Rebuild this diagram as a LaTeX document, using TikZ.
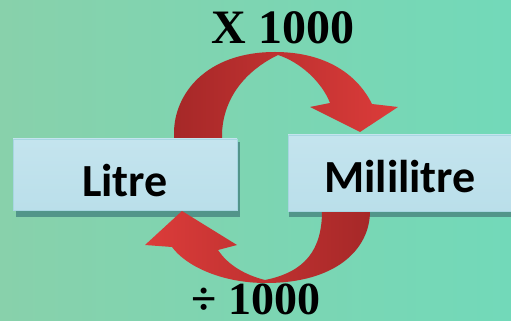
\documentclass[tikz,border=0pt]{standalone}
\usepackage{fontspec}
\setmainfont{Liberation Serif}
\newfontfamily\boxfont{Carlito}
\begin{document}
\begin{tikzpicture}[x=1pt,y=1pt,
  labelbox/.style={shading=axis, top color=boxtop, middle color=boxmid, bottom color=boxbot, draw=boxedge, line width=0.8pt},
  boxshadow/.style={fill=shadowcol},
  boxtext/.style={font=\boxfont\fontsize{46}{50}\bfseries\selectfont, text=black, anchor=base, inner sep=0pt},
  numtext/.style={font=\fontsize{48}{52}\bfseries\selectfont, text=black, anchor=base, inner sep=0pt}]
\definecolor{bgleft}{HTML}{88D1AB}
\definecolor{bgright}{HTML}{72D9B9}
\definecolor{boxtop}{HTML}{C4E4EE}
\definecolor{boxmid}{HTML}{E2F3F7}
\definecolor{boxbot}{HTML}{BADFEA}
\definecolor{boxedge}{HTML}{A8D6E2}
\definecolor{shadowcol}{HTML}{52958A}
\definecolor{arrdark}{HTML}{A62828}
\definecolor{arrbright}{HTML}{DC3C3A}
\useasboundingbox (0,0) rectangle (511,321);
\clip (0,0) rectangle (511,321);
% background
\shade[left color=bgleft, right color=bgright] (0,0) rectangle (511,321);
% box shadows
\fill[boxshadow] (16,104) rectangle (240,179);
\fill[boxshadow] (289,104) rectangle (515,183);
% top arrow (Litre -> Mililitre)
\shade[left color=arrdark, right color=arrbright]
  (174,170) -- (174,188) .. controls (174,226) and (205,269) .. (275,269)
  .. controls (320,269) and (355,251) .. (372,217) -- (398,214) -- (360,189)
  -- (310,214) -- (330,218) .. controls (322,239) and (300,259) .. (278,266)
  .. controls (255,255) and (224,231) .. (222,188) -- (222,170) -- cycle;
% bottom arrow (Mililitre -> Litre)
\shade[left color=arrbright, right color=arrdark]
  (370,120) -- (370,110) .. controls (370,71) and (335,38) .. (266,38)
  .. controls (220,38) and (185,56) .. (172,74) -- (145,76) -- (182,110)
  -- (237,76) -- (218,71) .. controls (228,56) and (245,46) .. (265,41)
  .. controls (305,49) and (322,71) .. (322,110) -- (322,120) -- cycle;
% boxes
\path[labelbox] (13,111) rectangle (237,182);
\path[labelbox] (288,110) rectangle (515,186);
\node[boxtext] (litre) at (125,124) {Litre};
\node[boxtext] (ml) at (400,128) {Mililitre};
\node[numtext] (mul) at (283,277) {X 1000};
\node[numtext, font=\fontsize{46}{50}\bfseries\selectfont] (div) at (256,6) {÷ 1000};
\end{tikzpicture}
\end{document}
